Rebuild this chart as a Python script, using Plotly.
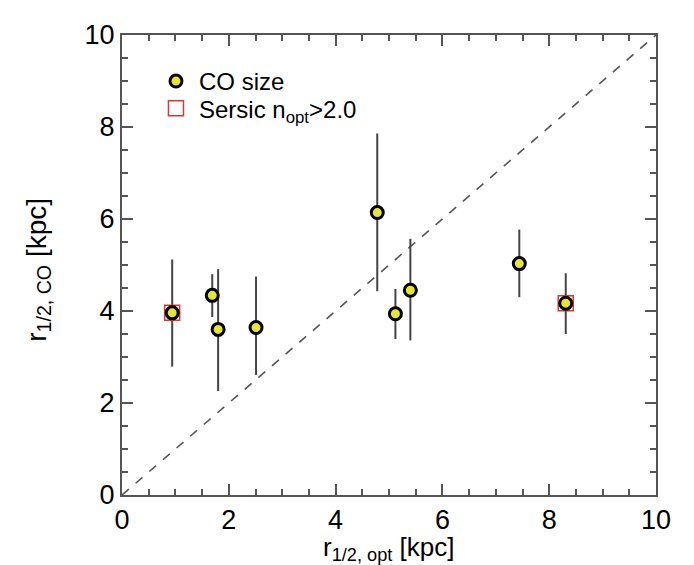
import plotly.graph_objects as go

# data
r_opt = [0.94, 1.69, 1.80, 2.51, 4.78, 5.12, 5.40, 7.44, 8.31]
r_co = [3.96, 4.34, 3.60, 3.64, 6.14, 3.94, 4.45, 5.03, 4.17]
err_up = [1.16, 0.46, 1.31, 1.11, 1.72, 0.54, 1.12, 0.74, 0.65]
err_dn = [1.17, 0.47, 1.34, 1.03, 1.71, 0.55, 1.09, 0.73, 0.67]
sersic_x = [0.94, 8.31]
sersic_y = [3.96, 4.17]
diag = [0, 10]

x_title = "r<sub>1/2, opt</sub> [kpc]"
y_title = "r<sub>1/2, CO</sub> [kpc]"

font_family = "Liberation Sans, Arial, Helvetica, sans-serif"

fig = go.Figure()

fig.add_trace(go.Scatter(
    x=diag, y=diag, mode="lines",
    line=dict(color="#555555", width=1.6, dash="dash"),
    showlegend=False, hoverinfo="skip"))

fig.add_trace(go.Scatter(
    x=r_opt, y=r_co, mode="markers",
    error_y=dict(type="data", symmetric=False, array=err_up, arrayminus=err_dn,
                 color="#444444", thickness=2, width=0),
    marker=dict(size=0.1, color="rgba(0,0,0,0)"),
    showlegend=False, hoverinfo="skip"))

fig.add_trace(go.Scatter(
    x=sersic_x, y=sersic_y, mode="markers",
    name="Sersic n<sub>opt</sub>&gt;2.0",
    marker=dict(symbol="square", size=15, color="rgba(255,255,255,0)",
                line=dict(color="#d9383a", width=1.5)),
    legend="legend2"))

fig.add_trace(go.Scatter(
    x=r_opt, y=r_co, mode="markers", name="CO size",
    marker=dict(symbol="circle", size=12, color="#e6e632",
                line=dict(color="black", width=3)),
    legend="legend"))

axis_common = dict(
    range=[0, 10], dtick=2, ticks="inside", ticklen=11, tickwidth=2,
    tickcolor="#555555", showline=True, linecolor="#555555", linewidth=2,
    mirror="allticks", showgrid=False, zeroline=False,
    minor=dict(dtick=0.5, ticks="inside", ticklen=6, tickwidth=1.5,
               tickcolor="#555555", showgrid=False),
    tickfont=dict(size=27, color="black", family=font_family),
)

legend_common = dict(xanchor="left", yanchor="middle",
                     bgcolor="rgba(0,0,0,0)", font=dict(size=24),
                     itemwidth=36)

fig.update_layout(
    width=694, height=565,
    margin=dict(l=114, r=46, t=19, b=78),
    plot_bgcolor="white", paper_bgcolor="white",
    font=dict(family=font_family, color="black"),
    xaxis=axis_common,
    yaxis=axis_common,
    legend=dict(legend_common, x=0.058, y=0.899),
    legend2=dict(legend_common, x=0.058, y=0.840),
    showlegend=True,
    annotations=[
        dict(text=x_title, xref="paper", yref="paper", x=0.5, y=-0.075,
             xanchor="center", yanchor="top", showarrow=False,
             font=dict(size=26)),
        dict(text=y_title, xref="paper", yref="paper", x=-0.157, y=0.49,
             xanchor="center", yanchor="middle", showarrow=False,
             textangle=-90, font=dict(size=28)),
    ],
)

fig.write_html("out.html")
